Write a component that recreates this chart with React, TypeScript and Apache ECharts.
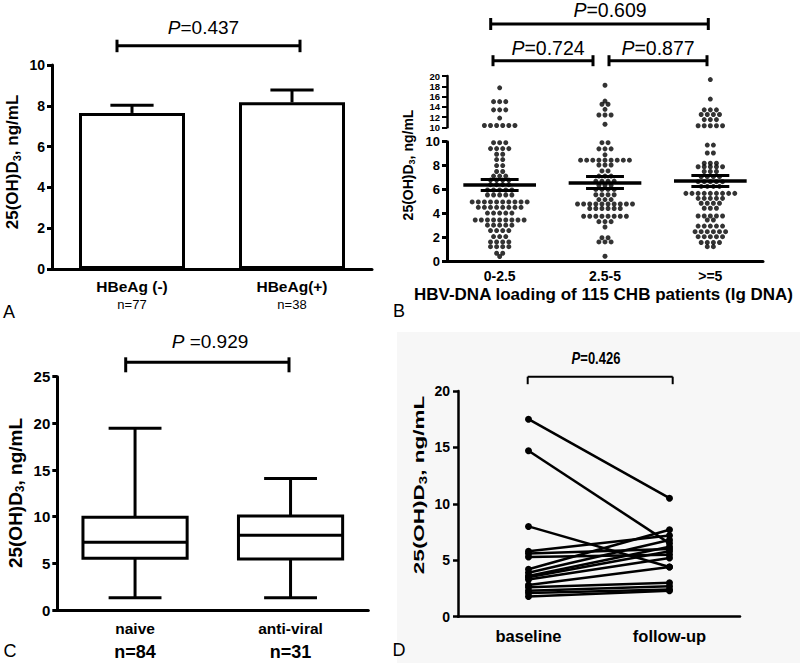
import React, { useEffect, useRef } from 'react';
import * as echarts from 'echarts';

const FONT = '"Liberation Sans", Arial, Helvetica, sans-serif';

// ---------- Panel A ----------
const aCategories = ['HBeAg (-)', 'HBeAg(+)'];
const aCounts = ['n=77', 'n=38'];
const aMeans = [7.65, 8.17];
const aErrTop = [8.03, 8.77];

// ---------- Panel B ----------
const bCategories = ['0-2.5', '2.5-5', '>=5'];
// [value, number of dots at that level]
const bRows1: [number, number][] = [
  [17.7, 1], [15.0, 3], [13.4, 3], [11.8, 1], [10.35, 6],
  [9.92, 3], [9.42, 4], [8.95, 2], [8.5, 2], [8.0, 2], [7.5, 2], [7.12, 3], [6.78, 4], [6.4, 4],
  [5.95, 5], [5.53, 5], [4.95, 10], [4.5, 8], [4.02, 5], [3.44, 9], [3.0, 5], [2.55, 4],
  [2.05, 3], [1.6, 4], [1.2, 4], [0.65, 2], [0.38, 1],
];
const bRows2: [number, number][] = [
  [18.2, 1], [15.1, 1], [14.5, 2], [13.5, 1], [12.4, 3], [10.6, 1],
  [9.92, 2], [9.4, 3], [8.9, 1], [8.45, 9], [8.05, 3], [7.55, 2], [7.12, 3], [6.7, 4], [6.35, 3],
  [6.0, 4], [5.55, 4], [5.15, 3], [4.78, 10], [4.4, 6], [3.75, 8], [3.3, 3], [2.85, 1],
  [1.95, 2], [1.6, 3], [0.4, 1],
];
const bRows3: [number, number][] = [
  [19.3, 1], [15.5, 1], [13.4, 3], [12.5, 4], [11.5, 3], [10.3, 5],
  [9.72, 2], [9.05, 2], [8.2, 3], [7.9, 5], [7.5, 3], [7.07, 4], [6.65, 5], [6.25, 4],
  [5.67, 9], [5.25, 5], [4.84, 4], [4.42, 3], [3.77, 5], [3.44, 2], [2.93, 5], [2.46, 6],
  [2.04, 5], [1.55, 4], [1.2, 2],
];
const bMeans = [6.37, 6.56, 6.7];
const bSemLow = [5.95, 6.09, 6.23];
const bSemHigh = [6.85, 7.07, 7.15];
const bUpperTicks = [10, 20];
const bLowerTicks = [0, 10];

// ---------- Panel C ----------
const cCategories = ['naive', 'anti-viral'];
const cCounts = ['n=84', 'n=31'];
const cMin = [1.32, 1.32];
const cQ1 = [5.54, 5.46];
const cMedian = [7.25, 8.0];
const cQ3 = [9.93, 10.07];
const cMax = [19.47, 14.1];

// ---------- Panel D ----------
const dCategories = ['baseline', 'follow-up'];
const dBaseline = [17.5, 14.7, 8.0, 5.8, 5.6, 5.3, 4.2, 3.9, 3.6, 3.5, 3.3, 2.8, 2.6, 2.3, 2.1, 1.8];
const dFollowUp = [10.5, 6.5, 4.4, 7.2, 6.0, 5.5, 7.7, 6.8, 6.2, 5.8, 5.2, 4.4, 3.0, 2.7, 2.4, 2.3];

function swarm(rows: [number, number][], center: number, step: number) {
  const pts: number[][] = [];
  rows.forEach(([v, n]) => {
    for (let k = 0; k < n; k++) pts.push([center + (k - (n - 1) / 2) * step, v]);
  });
  return pts;
}

function line(x1: number, y1: number, x2: number, y2: number, w: number) {
  return { type: 'line', shape: { x1, y1, x2, y2 }, style: { stroke: '#000', lineWidth: w }, z: 10 };
}

function bracket(x1: number, x2: number, y: number, up: number, down: number, w: number) {
  return [line(x1, y, x2, y, w), line(x1, y - up, x1, y + down, w), line(x2, y - up, x2, y + down, w)];
}

function pText(x: number, y: number, text: string, size: number, bold = false, scaleY = 1) {
  return {
    type: 'text', x, y, scaleY, z: 10,
    style: {
      text, fontSize: size, fontFamily: FONT, fontWeight: bold ? 'bold' : 'normal', fill: '#000',
      align: 'center', verticalAlign: 'middle',
      rich: { i: { fontStyle: 'italic', fontSize: size, fontFamily: FONT, fontWeight: bold ? 'bold' : 'normal', fill: '#000' } },
    },
  };
}

function yName(x: number, y: number, size: number, scaleX = 1) {
  return {
    type: 'text', x, y, rotation: Math.PI / 2, scaleX, z: 10,
    style: {
      text: '{m|25(OH)D}{s|3}{m|, ng/mL}', align: 'center', verticalAlign: 'middle', fill: '#000',
      fontFamily: FONT, fontWeight: 'bold', fontSize: size,
      rich: {
        m: { fontSize: size, fontWeight: 'bold', fontFamily: FONT, fill: '#000', lineHeight: size + 3 },
        s: { fontSize: Math.round(size * 0.65), fontWeight: 'bold', fontFamily: FONT, fill: '#000', verticalAlign: 'bottom', lineHeight: Math.round(size * 0.55) },
      },
    },
  };
}

function panelLetter(x: number, y: number, t: string) {
  return { type: 'text', x, y, z: 10, style: { text: t, fontSize: 18, fontFamily: FONT, fill: '#000', align: 'center', verticalAlign: 'middle' } };
}

function buildOption(): any {
  const axisLine = (w: number) => ({ show: true, onZero: false, lineStyle: { color: '#000', width: w } });
  const yLabel = (size: number, margin: number) => ({ fontFamily: FONT, fontWeight: 'bold', fontSize: size, color: '#000', margin });

  const step = 0.058;
  const allB = [swarm(bRows1, 0, step), swarm(bRows2, 1, step), swarm(bRows3, 2, step)].flat();
  const bUpper = allB.filter((p) => p[1] > 10.1);
  const bLower = allB.filter((p) => p[1] <= 10.1);

  const meanLines: any[] = [];
  bMeans.forEach((m, i) => {
    meanLines.push([{ coord: [i - 0.345, m], lineStyle: { width: 3.5 } }, { coord: [i + 0.345, m] }]);
    meanLines.push([{ coord: [i - 0.18, bSemLow[i]], lineStyle: { width: 3 } }, { coord: [i + 0.18, bSemLow[i]] }]);
    meanLines.push([{ coord: [i - 0.18, bSemHigh[i]], lineStyle: { width: 3 } }, { coord: [i + 0.18, bSemHigh[i]] }]);
  });

  const dSeries = dBaseline.map((b, i) => ({
    type: 'line', xAxisIndex: 5, yAxisIndex: 4, data: [b, dFollowUp[i]],
    symbol: 'circle', symbolSize: 7, showSymbol: true,
    lineStyle: { color: '#000', width: 2.5 }, itemStyle: { color: '#000' }, silent: true,
  }));

  return {
    animation: false,
    backgroundColor: '#fff',
    grid: [
      { left: 52, top: 65, width: 320, height: 204 },
      { left: 447, top: 76, width: 316, height: 51.3 },
      { left: 447, top: 141.7, width: 316, height: 119.3 },
      { left: 57.3, top: 376.7, width: 311, height: 233.3 },
      { left: 458, top: 391, width: 282, height: 225.7 },
    ],
    xAxis: [
      {
        gridIndex: 0, type: 'category', data: aCategories, position: 'bottom',
        axisLine: axisLine(3), axisTick: { alignWithLabel: true, length: 7, lineStyle: { color: '#000', width: 3 } },
        axisLabel: {
          margin: 8, color: '#000',
          formatter: (v: string, i: number) => `{a|${v}}\n{b|${aCounts[i]}}`,
          rich: {
            a: { fontFamily: FONT, fontWeight: 'bold', fontSize: 15.5, lineHeight: 18, color: '#000' },
            b: { fontFamily: FONT, fontSize: 13, lineHeight: 18, color: '#000' },
          },
        },
      },
      { gridIndex: 1, type: 'value', min: -0.5, max: 2.5, show: false, position: 'top' },
      { gridIndex: 2, type: 'value', min: -0.5, max: 2.5, show: false, position: 'top' },
      {
        gridIndex: 2, type: 'category', data: bCategories, position: 'bottom',
        axisLine: axisLine(3), axisTick: { alignWithLabel: true, length: 6, lineStyle: { color: '#000', width: 3 } },
        axisLabel: { margin: 7, fontFamily: FONT, fontWeight: 'bold', fontSize: 14, color: '#000', lineHeight: 15 },
      },
      {
        gridIndex: 3, type: 'category', data: cCategories, position: 'bottom',
        axisLine: axisLine(3), axisTick: { alignWithLabel: true, length: 7, lineStyle: { color: '#000', width: 3 } },
        axisLabel: {
          margin: 8, color: '#000',
          formatter: (v: string, i: number) => `{a|${v}}\n{b|${cCounts[i]}}`,
          rich: {
            a: { fontFamily: FONT, fontWeight: 'bold', fontSize: 15.5, lineHeight: 20, color: '#000' },
            b: { fontFamily: FONT, fontWeight: 'bold', fontSize: 18, lineHeight: 27, color: '#000' },
          },
        },
      },
      {
        gridIndex: 4, type: 'category', data: dCategories, position: 'bottom',
        axisLine: axisLine(2.5), axisTick: { alignWithLabel: true, length: 6, lineStyle: { color: '#000', width: 2.5 } },
        axisLabel: { margin: 9, fontFamily: FONT, fontWeight: 'bold', fontSize: 16.5, color: '#000', lineHeight: 20 },
      },
    ],
    yAxis: [
      {
        gridIndex: 0, type: 'value', min: 0, max: 10, interval: 2,
        axisLine: axisLine(3), axisTick: { show: true, length: 5, lineStyle: { color: '#000', width: 3 } },
        axisLabel: yLabel(14, 7), splitLine: { show: false },
      },
      {
        gridIndex: 1, type: 'value', min: bUpperTicks[0], max: bUpperTicks[1], interval: 2,
        axisLine: axisLine(2.5), axisTick: { show: true, length: 5, lineStyle: { color: '#000', width: 2 } },
        axisLabel: { ...yLabel(9.5, 7), lineHeight: 9, showMinLabel: true, showMaxLabel: true, hideOverlap: false },
        splitLine: { show: false },
      },
      {
        gridIndex: 2, type: 'value', min: bLowerTicks[0], max: bLowerTicks[1], interval: 2,
        axisLine: axisLine(3), axisTick: { show: true, length: 5, lineStyle: { color: '#000', width: 3 } },
        axisLabel: yLabel(13, 7), splitLine: { show: false },
      },
      {
        gridIndex: 3, type: 'value', min: 0, max: 25, interval: 5,
        axisLine: axisLine(3), axisTick: { show: true, length: 5, lineStyle: { color: '#000', width: 3 } },
        axisLabel: yLabel(15, 7), splitLine: { show: false },
      },
      {
        gridIndex: 4, type: 'value', min: 0, max: 20, interval: 5,
        axisLine: axisLine(2.5), axisTick: { show: true, length: 5, lineStyle: { color: '#000', width: 2.5 } },
        axisLabel: yLabel(14, 8), splitLine: { show: false },
      },
    ],
    series: [
      {
        type: 'bar', xAxisIndex: 0, yAxisIndex: 0, data: aMeans, barWidth: 106, silent: true,
        itemStyle: { color: '#fff', borderColor: '#000', borderWidth: 3 },
      },
      {
        type: 'custom', xAxisIndex: 0, yAxisIndex: 0, silent: true, z: 3,
        data: aMeans.map((m, i) => [i, m, aErrTop[i]]),
        renderItem: (params: any, api: any) => {
          const i = api.value(0);
          const band = api.size([1, 0])[0];
          const cw = band * 0.135;
          const p0 = api.coord([i, api.value(1)]);
          const p1 = api.coord([i, api.value(2)]);
          const st = { stroke: '#000', lineWidth: 3 };
          return {
            type: 'group', children: [
              { type: 'line', shape: { x1: p0[0], y1: p0[1], x2: p1[0], y2: p1[1] }, style: st },
              { type: 'line', shape: { x1: p1[0] - cw, y1: p1[1], x2: p1[0] + cw, y2: p1[1] }, style: st },
            ],
          };
        },
      },
      {
        type: 'scatter', xAxisIndex: 1, yAxisIndex: 1, data: bUpper, symbolSize: 5, silent: true,
        itemStyle: { color: '#000' },
      },
      {
        type: 'scatter', xAxisIndex: 2, yAxisIndex: 2, data: bLower, symbolSize: 5, silent: true,
        itemStyle: { color: '#000' },
        markLine: {
          silent: true, symbol: ['none', 'none'], label: { show: false },
          lineStyle: { color: '#000', type: 'solid', width: 3 },
          data: meanLines,
        },
      },
      {
        type: 'custom', xAxisIndex: 4, yAxisIndex: 3, silent: true,
        data: cCategories.map((_, i) => [i, cMin[i], cQ1[i], cMedian[i], cQ3[i], cMax[i]]),
        encode: { x: 0, y: [1, 2, 3, 4, 5] },
        renderItem: (params: any, api: any) => {
          const i = api.value(0);
          const band = api.size([1, 0])[0];
          const hw = band * 0.335;
          const cw = band * 0.17;
          const pMin = api.coord([i, api.value(1)]);
          const pQ1 = api.coord([i, api.value(2)]);
          const pMed = api.coord([i, api.value(3)]);
          const pQ3 = api.coord([i, api.value(4)]);
          const pMax = api.coord([i, api.value(5)]);
          const x = pMin[0];
          const st = { stroke: '#000', lineWidth: 3 };
          return {
            type: 'group', children: [
              { type: 'line', shape: { x1: x, y1: pMax[1], x2: x, y2: pQ3[1] }, style: st },
              { type: 'line', shape: { x1: x, y1: pQ1[1], x2: x, y2: pMin[1] }, style: st },
              { type: 'line', shape: { x1: x - cw, y1: pMax[1], x2: x + cw, y2: pMax[1] }, style: st },
              { type: 'line', shape: { x1: x - cw, y1: pMin[1], x2: x + cw, y2: pMin[1] }, style: st },
              { type: 'rect', shape: { x: x - hw, y: pQ3[1], width: 2 * hw, height: pQ1[1] - pQ3[1] }, style: { fill: '#fff', stroke: '#000', lineWidth: 3 } },
              { type: 'line', shape: { x1: x - hw, y1: pMed[1], x2: x + hw, y2: pMed[1] }, style: st },
            ],
          };
        },
      },
      ...dSeries,
    ],
    graphic: [
      { type: 'rect', z: -100, silent: true, shape: { x: 397, y: 332, width: 403, height: 331 }, style: { fill: '#f7f7f7' } },
      panelLetter(9, 312, 'A'),
      panelLetter(399, 311, 'B'),
      panelLetter(10, 651, 'C'),
      panelLetter(399, 650, 'D'),
      yName(12, 162, 17),
      yName(408, 165, 14),
      yName(15, 493, 19),
      yName(419, 485, 15, 1.5),
      {
        type: 'text', x: 603.5, y: 294.5, z: 10,
        style: { text: 'HBV-DNA loading of 115 CHB patients (lg DNA)', fontSize: 17, fontWeight: 'bold', fontFamily: FONT, fill: '#000', align: 'center', verticalAlign: 'middle' },
      },
      pText(203.5, 27.5, '{i|P}=0.437', 19),
      pText(610, 10, '{i|P}=0.609', 19.5),
      pText(548, 48, '{i|P}=0.724', 19.5),
      pText(658, 48, '{i|P}=0.877', 19.5),
      pText(210, 341.7, '{i|P} =0.929', 19),
      pText(596, 358, '{i|P}=0.426', 13, true, 1.3),
      ...bracket(117, 300, 45.7, 6, 6.5, 3),
      ...bracket(490.7, 708.3, 24, 6, 6, 3),
      ...bracket(493, 593, 60.7, 5.5, 5.5, 3),
      ...bracket(609, 707, 60.7, 5.5, 5.5, 3),
      ...bracket(125.7, 289, 362.3, 5, 10, 3),
      ...bracket(527.7, 672.7, 376.7, 0, 7.5, 2),
    ],
  };
}

export default function App() {
  const ref = useRef<HTMLDivElement>(null);
  useEffect(() => {
    if (!ref.current) return;
    const chart = echarts.init(ref.current, undefined, { renderer: 'svg' });
    chart.setOption(buildOption());
    return () => chart.dispose();
  }, []);
  return (
    <div
      ref={ref}
      style={{ position: 'fixed', left: 0, top: 0, width: 800, height: 663, background: '#fff' }}
    />
  );
}
